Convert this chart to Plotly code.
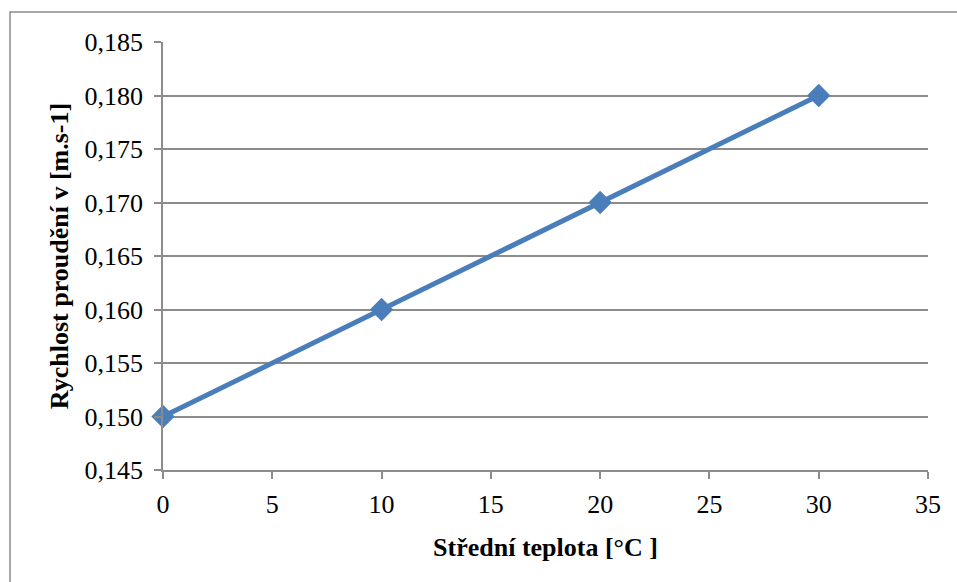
import plotly.graph_objects as go

x_vals = [0, 10, 20, 30]
y_vals = [0.150, 0.160, 0.170, 0.180]
x_title = "Střední teplota [°C ]"
y_title = "Rychlost proudění v [m.s-1]"

font_family = "Liberation Serif"
grid_col = "#8c8c8c"

fig = go.Figure()
fig.add_trace(go.Scatter(
    x=x_vals, y=y_vals, mode="lines+markers",
    line=dict(color="#4a7ebb", width=5),
    marker=dict(symbol="diamond", size=18, color="#4a7ebb"),
    showlegend=False, cliponaxis=False,
))

fig.update_layout(
    width=957, height=582,
    margin=dict(l=163, r=29, t=42, b=112),
    paper_bgcolor="white", plot_bgcolor="white",
    separators=", ",
    font=dict(family=font_family, size=26, color="black"),
    xaxis=dict(
        range=[0, 35], tickmode="linear", tick0=0, dtick=5,
        showgrid=False, zeroline=False,
        showline=True, linecolor=grid_col, linewidth=1.5,
        ticks="outside", ticklen=7, tickcolor=grid_col, tickwidth=1.5,
        ticklabelstandoff=3,
        tickfont=dict(family=font_family, size=26),
        title=dict(text="<b>" + x_title + "</b>", font=dict(family=font_family, size=26), standoff=20),
    ),
    yaxis=dict(
        range=[0.145, 0.185], tickmode="linear", tick0=0.145, dtick=0.005,
        tickformat=".3f",
        showgrid=True, gridcolor=grid_col, gridwidth=1.5,
        zeroline=False,
        showline=True, linecolor=grid_col, linewidth=1.5,
        ticks="outside", ticklen=7, tickcolor=grid_col, tickwidth=1.5,
        ticklabelstandoff=6,
        tickfont=dict(family=font_family, size=26),
        title=dict(text="<b>" + y_title + "</b>", font=dict(family=font_family, size=26), standoff=8),
    ),
    shapes=[dict(
        type="rect", xref="paper", yref="paper",
        x0=-0.2, x1=1.1, y0=-0.4, y1=1.0701,
        line=dict(color="#8c8c8c", width=1.5), fillcolor="rgba(0,0,0,0)",
        layer="below",
    )],
)

fig.write_html("out.html")
